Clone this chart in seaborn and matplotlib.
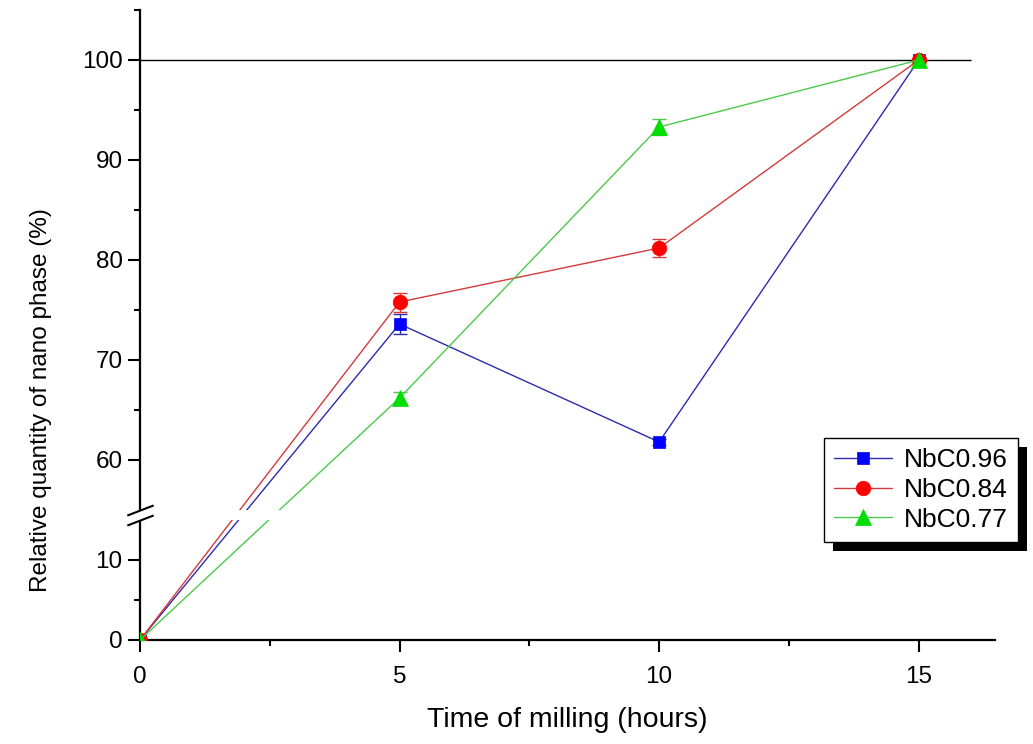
import numpy as np
import pandas as pd
import matplotlib
matplotlib.use("Agg")
import matplotlib.pyplot as plt
from matplotlib.patches import Rectangle
import seaborn as sns

# Milling time (hours) and relative nano-phase content (%) per composition
hours = [0, 5, 10, 15]
series_names = ["NbC0.96", "NbC0.84", "NbC0.77"]
nbc096 = [0, 73.6, 61.8, 100]
nbc084 = [0, 75.8, 81.2, 100]
nbc077 = [0, 66.2, 93.3, 100]
err096 = [0, 1.0, 0.3, 0]
err084 = [0, 0.95, 0.9, 0]
err077 = [0, 0.6, 0.8, 0]

x_ticks = [0, 5, 10, 15]
x_minor = [2.5, 7.5, 12.5]
y_ticks = [0, 10, 60, 70, 80, 90, 100]
y_minor = [5, 65, 75, 85, 95, 105]

# Broken y axis: 0..15 and 55..105 share one axis with a small gap
LOW_MAX, HIGH_MIN, Y_MAX = 15.0, 55.0, 105.0
LOW_GAIN, HIGH_GAIN, GAP = 8.0, 10.0, 10.0
X_MAX = 16.47
REF_END = 16.0

line_colors = ["#2b2bb0", "#d43a3a", "#4cc84c"]
face_colors = ["#0000ff", "#ff0000", "#00dd00"]
markers = ["s", "o", "^"]
marker_sizes = [9.0, 10.5, 11.5]


def fwd(y):
    y = np.asarray(y, dtype=float)
    a = LOW_MAX * LOW_GAIN
    low = y * LOW_GAIN
    mid = a + (y - LOW_MAX) / (HIGH_MIN - LOW_MAX) * GAP
    high = a + GAP + (y - HIGH_MIN) * HIGH_GAIN
    return np.where(y <= LOW_MAX, low, np.where(y >= HIGH_MIN, high, mid))


def inv(u):
    u = np.asarray(u, dtype=float)
    a = LOW_MAX * LOW_GAIN
    b = a + GAP
    low = u / LOW_GAIN
    mid = LOW_MAX + (u - a) / GAP * (HIGH_MIN - LOW_MAX)
    high = HIGH_MIN + (u - b) / HIGH_GAIN
    return np.where(u <= a, low, np.where(u >= b, high, mid))


sns.set_style("ticks")
plt.rcParams["font.family"] = ["Liberation Sans", "DejaVu Sans"]
plt.rcParams["text.color"] = "black"
plt.rcParams["axes.labelcolor"] = "black"
plt.rcParams["xtick.color"] = "black"
plt.rcParams["ytick.color"] = "black"

df = pd.DataFrame({
    "hours": hours * 3,
    "value": nbc096 + nbc084 + nbc077,
    "err": err096 + err084 + err077,
    "series": [n for n in series_names for _ in hours],
})

fig = plt.figure(figsize=(10.33, 7.44), dpi=100)
ax = fig.add_axes([140 / 1033, 104 / 744, 855 / 1033, 630 / 744])
ax.set_yscale("function", functions=(fwd, inv))

sns.lineplot(data=df, x="hours", y="value", hue="series", style="series",
             hue_order=series_names, style_order=series_names,
             palette=line_colors, markers=markers, dashes=False,
             linewidth=1.0, legend=False, ax=ax, zorder=3)

handles = list(ax.lines[:3])
for ln, fc, ms in zip(handles, face_colors, marker_sizes):
    ln.set_markersize(ms)
    ln.set_markerfacecolor(fc)
    ln.set_markeredgecolor(fc)
    ln.set_markeredgewidth(0.5)

for name, col in zip(series_names, line_colors):
    sub = df[df["series"] == name]
    ax.errorbar(sub["hours"], sub["value"], yerr=sub["err"], fmt="none",
                ecolor=col, elinewidth=1.0, capsize=4.7, capthick=1.0,
                zorder=2)

# Reference line at 100 %
ax.hlines(100, 0, REF_END, color="black", linewidth=1.0, zorder=2.6)

ax.set_xlim(0, X_MAX)
ax.set_ylim(0, Y_MAX)
ax.set_xticks(x_ticks)
ax.set_xticks(x_minor, minor=True)
ax.set_yticks(y_ticks)
ax.set_yticks(y_minor, minor=True)
ax.set_xticklabels([str(v) for v in x_ticks])
ax.set_yticklabels([str(v) for v in y_ticks])

for side in ("top", "right"):
    ax.spines[side].set_visible(False)
for side in ("left", "bottom"):
    ax.spines[side].set_linewidth(1.6)
    ax.spines[side].set_color("black")

ax.tick_params(which="major", direction="out", length=8.5, width=1.5,
               color="black", labelsize=17.5, labelcolor="black")
ax.tick_params(which="minor", direction="out", length=4.5, width=1.5,
               color="black")
ax.tick_params(axis="x", which="major", pad=10)
ax.tick_params(axis="y", which="major", pad=4)

ax.set_xlabel("Time of milling (hours)", fontsize=20.5, color="black")
ax.set_ylabel("Relative quantity of nano phase (%)", fontsize=17.5,
              color="black")
ax.xaxis.set_label_coords(0.5, -0.106)
ax.yaxis.set_label_coords(-0.103, 0.381)

# White gap across the plot where the axis is broken
ax.axhspan(LOW_MAX, HIGH_MIN, xmin=-0.015, xmax=1.0, facecolor="white",
           edgecolor="none", zorder=3.5, clip_on=False)
slash = [(-1.0, -0.385), (1.0, 0.385)]
ax.plot([0, 0], [HIGH_MIN, LOW_MAX], linestyle="none", marker=slash,
        markersize=19, markeredgecolor="black", markeredgewidth=1.5,
        clip_on=False, zorder=4)

leg = ax.legend(handles, series_names, loc="upper left",
                bbox_to_anchor=(0.8, 0.3206), borderaxespad=0,
                fontsize=19, frameon=True, fancybox=False, framealpha=1,
                edgecolor="black", handlelength=2.2, handletextpad=0.45,
                labelspacing=0.22, borderpad=0.38, numpoints=1)
leg.get_frame().set_linewidth(1.0)
leg.set_zorder(5)
for t in leg.get_texts():
    t.set_color("black")

# Solid drop shadow behind the legend box
fig.canvas.draw()
bb = leg.get_frame().get_window_extent().transformed(fig.transFigure.inverted())
dx, dy = 9 / 1033, 9 / 744
shadow = Rectangle((bb.x0 + dx, bb.y0 - dy), bb.width, bb.height,
                   transform=fig.transFigure, facecolor="black",
                   edgecolor="none", zorder=4.9, clip_on=False)
ax.add_artist(shadow)

fig.savefig("out.png", dpi=100)
